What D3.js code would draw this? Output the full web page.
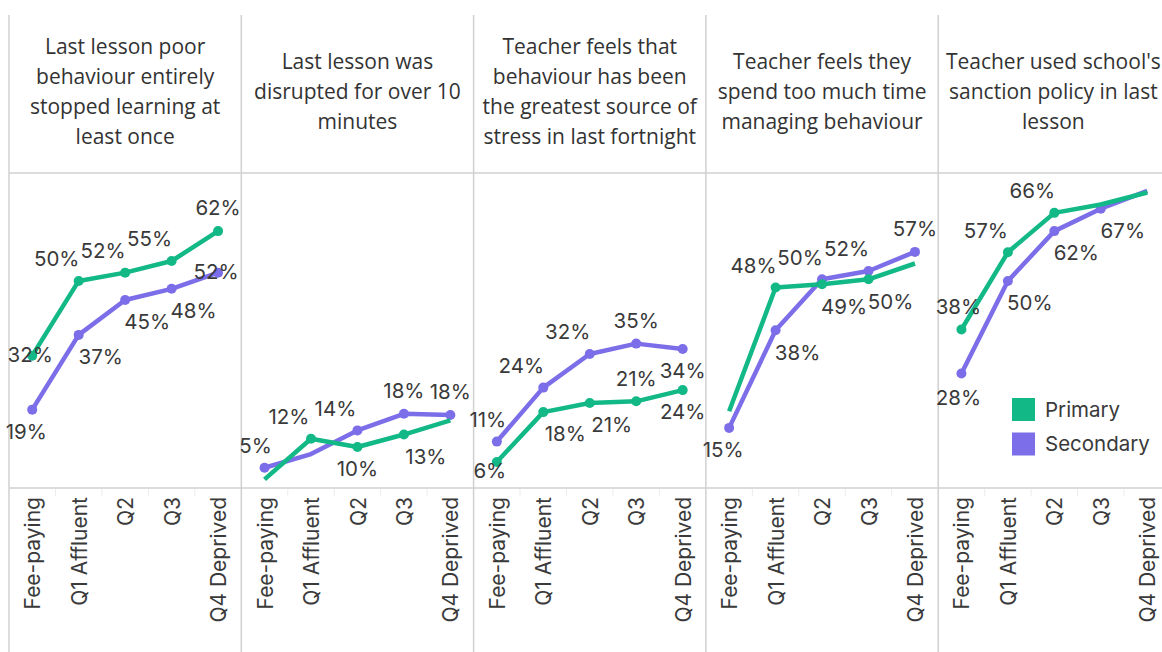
<!DOCTYPE html>
<html>
<head>
<meta charset="utf-8">
<script src="https://cdn.jsdelivr.net/npm/d3@7"></script>
<style>
  html, body { margin: 0; padding: 0; background: #ffffff; }
  svg { display: block; }
</style>
</head>
<body>
<div id="chart"></div>
<script>
// ---------- DATA ----------
const categories = ["Fee-paying", "Q1 Affluent", "Q2", "Q3", "Q4 Deprived"];

const panelTitles = [
  ["Last lesson poor", "behaviour entirely", "stopped learning at", "least once"],
  ["Last lesson was", "disrupted for over 10", "minutes"],
  ["Teacher feels that", "behaviour has been", "the greatest source of", "stress in last fortnight"],
  ["Teacher feels they", "spend too much time", "managing behaviour"],
  ["Teacher used school's", "sanction policy in last", "lesson"]
];

const seriesNames = ["Primary", "Secondary"];

// values in %, one row per panel, one entry per category
const primaryValues = [
  [32, 50, 52, 54.8, 62],
  [2.2, 12, 10, 13, 16.4],
  [6.4, 18.4, 20.6, 21, 23.7],
  [18.6, 48.4, 49.2, 50.4, 54.2],
  [38.3, 56.9, 66.4, 68.4, 71.3]
];
const secondaryValues = [
  [19, 37, 45.4, 48.1, 52],
  [5, 8.3, 14, 18, 17.7],
  [11.3, 24.3, 32.4, 34.9, 33.6],
  [14.6, 38.1, 50.4, 52.4, 57],
  [27.7, 50, 62, 67.4, 71.7]
];

// which data labels are shown, and where (null = no label / no marker)
const primaryLabelPos = [
  ["c", "tl", "tl", "tl", "t"],
  [null, "tl", "b", "br", null],
  ["bl", "br", "br", "t", "b"],
  [null, "tl", "br", "br", null],
  ["t3", "tl", "tl", null, null]
];
const secondaryLabelPos = [
  ["b6", "br", "br", "br", "c"],
  ["t9", null, "tl", "t", "t"],
  ["t9", "tl", "tl", "t", "b"],
  ["b6", "br", "tl", "tl", "t"],
  ["b3", "br", "br", "br", null]
];

// ---------- STYLE / LAYOUT ----------
const W = 1162, H = 652;
const colors = { Primary: "#12b886", Secondary: "#7b6ee8" };
const left = 9, panelW = 232.3;
const headerTop = 15, plotTop = 173, plotBottom = 488;
const labelFont = "Inter, Lato, sans-serif";
const titleFont = "'Open Sans', 'Noto Sans', sans-serif";
const textColor = "#3a3a3a";
const gridColor = "#d0d0d0";
const offsets = {
  c: [-2, -1], tl: [-22, -22], br: [22, 22], t: [0, -23], b: [0, 22],
  b6: [-6, 22], t9: [-9, -22], bl: [-7, 9], t3: [-3, -23], b3: [-3, 24]
};

const svg = d3.select("#chart").append("svg")
  .attr("width", W).attr("height", H)
  .attr("viewBox", `0 0 ${W} ${H}`);

const y = d3.scaleLinear().domain([0, 76]).range([plotBottom + 0.5, plotTop]);
const fmt = v => d3.format(".0f")(v) + "%";

// horizontal grid lines
svg.append("g").selectAll("line")
  .data([plotTop, plotBottom])
  .join("line")
  .attr("x1", left).attr("x2", W)
  .attr("y1", d => d).attr("y2", d => d)
  .attr("stroke", gridColor).attr("stroke-width", 1.5);

panelTitles.forEach((title, p) => {
  const x0 = left + p * panelW;
  const x = d3.scalePoint().domain(categories).range([x0, x0 + panelW]).padding(0.5);
  const g = svg.append("g");

  // panel border
  g.append("line")
    .attr("x1", x0).attr("x2", x0)
    .attr("y1", headerTop).attr("y2", H)
    .attr("stroke", gridColor).attr("stroke-width", 1.5);

  // title
  const lh = 30;
  const cy = 92 - (title.length - 1) * lh / 2;
  g.append("text")
    .attr("font-family", titleFont)
    .attr("font-size", 21)
    .attr("fill", "#333")
    .attr("text-anchor", "middle")
    .selectAll("tspan")
    .data(title)
    .join("tspan")
    .attr("x", x0 + panelW / 2 - (p === 4 ? 1 : 0))
    .attr("y", (d, i) => cy + i * lh)
    .attr("dy", "0.35em")
    .text(d => d);

  // category ticks (band boundaries)
  const step = x.step();
  g.append("g").selectAll("line")
    .data(categories.slice(1))
    .join("line")
    .attr("x1", d => x(d) - step / 2).attr("x2", d => x(d) - step / 2)
    .attr("y1", plotBottom + 1).attr("y2", plotBottom + 8)
    .attr("stroke", "#ececec").attr("stroke-width", 1);

  // category axis labels (rotated)
  const axis = d3.axisBottom(x).tickSize(0).tickPadding(0);
  const ax = g.append("g").attr("transform", `translate(0,${plotBottom + 9})`).call(axis);
  ax.select(".domain").remove();
  ax.selectAll("text")
    .attr("transform", "rotate(-90)")
    .attr("text-anchor", "end")
    .attr("x", 0).attr("y", 0)
    .attr("dy", "0.36em")
    .attr("font-family", labelFont)
    .attr("font-size", 21)
    .attr("fill", textColor);

  // series
  const series = [
    { name: "Secondary", values: secondaryValues[p], pos: secondaryLabelPos[p] },
    { name: "Primary", values: primaryValues[p], pos: primaryLabelPos[p] }
  ];
  const line = d3.line().x((d, i) => x(categories[i])).y(d => y(d));

  series.forEach(s => {
    g.append("path")
      .attr("d", line(s.values))
      .attr("fill", "none")
      .attr("stroke", colors[s.name])
      .attr("stroke-width", 4.5)
      .attr("stroke-linejoin", "round");
    g.append("g").selectAll("circle")
      .data(s.values.map((v, i) => ({ v, i, pos: s.pos[i] })).filter(d => d.pos))
      .join("circle")
      .attr("cx", d => x(categories[d.i]))
      .attr("cy", d => y(d.v))
      .attr("r", 5)
      .attr("fill", colors[s.name]);
  });

  // data labels
  series.forEach(s => {
    g.append("g").selectAll("text")
      .data(s.values.map((v, i) => ({ v, i, pos: s.pos[i] })).filter(d => d.pos))
      .join("text")
      .attr("x", d => x(categories[d.i]) + offsets[d.pos][0])
      .attr("y", d => y(d.v) + offsets[d.pos][1])
      .attr("dy", "0.36em")
      .attr("text-anchor", "middle")
      .attr("font-family", labelFont)
      .attr("font-size", 20.5)
      .attr("fill", textColor)
      .text(d => fmt(d.v));
  });
});

// legend
const legend = svg.append("g").attr("transform", "translate(1012,398)");
seriesNames.forEach((name, i) => {
  const row = legend.append("g").attr("transform", `translate(0,${i * 34.5})`);
  row.append("rect").attr("width", 23).attr("height", 23).attr("fill", colors[name]);
  row.append("text")
    .attr("x", 33).attr("y", 11.5).attr("dy", "0.36em")
    .attr("font-family", labelFont)
    .attr("font-size", 20.5)
    .attr("fill", textColor)
    .text(name);
});
</script>
</body>
</html>
